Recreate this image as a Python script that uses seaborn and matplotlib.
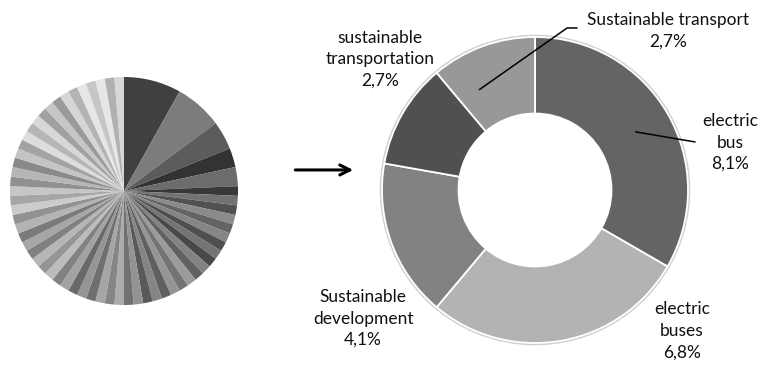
import matplotlib

matplotlib.use("Agg")

import matplotlib.pyplot as plt
import numpy as np
import seaborn as sns

# all keywords: counts of occurrences (first five are the top terms)
all_counts = [6, 5, 3, 2, 2] + [1] * 56

# top terms shown in the donut
top_terms = [
    "electric\nbus",
    "electric\nbuses",
    "Sustainable\ndevelopment",
    "sustainable\ntransportation",
    "Sustainable transport",
]
top_counts = [6, 5, 3, 2, 2]
top_pct = ["8,1%", "6,8%", "4,1%", "2,7%", "2,7%"]
top_colors = ["#646464", "#b3b3b3", "#828282", "#505050", "#989898"]

sns.set_theme(style="white")
plt.rcParams["font.family"] = ["Lato", "DejaVu Sans"]

W, H = 781, 377
fig = plt.figure(figsize=(W / 100, H / 100), dpi=100)

# ---- left pie with every keyword ----
pc, pr = (124, 191), 114
axl = fig.add_axes([(pc[0] - pr) / W, (H - pc[1] - pr) / H, 2 * pr / W, 2 * pr / H])
n = len(all_counts)
lead = ["#404040", "#7c7c7c", "#5c5c5c", "#333333", "#6c6c6c"]
cycle = [0.0, 0.22, 0.08, 0.3, 0.14, 0.26, 0.04, 0.18]
rest = []
for i in range(n - len(lead)):
    t = i / (n - len(lead))
    v = min(0.9, 0.22 + 0.45 * t + cycle[i % len(cycle)])
    rest.append((v, v, v))
axl.pie(all_counts, colors=lead + rest, startangle=90, counterclock=False,
        wedgeprops=dict(linewidth=0))
axl.set_xlim(-1, 1)
axl.set_ylim(-1, 1)
axl.set_aspect("auto")
axl.axis("off")

# ---- right donut with top terms ----
dc, dr = (535, 190), 153
x0, x1 = 280, W
axr = fig.add_axes([x0 / W, 0, (x1 - x0) / W, 1])

axr.add_patch(plt.Circle((0, 0), 1.008, fill=False, edgecolor="#cfcfcf", linewidth=1.5))
wedges, _ = axr.pie(top_counts, colors=top_colors, startangle=90, counterclock=False,
                    radius=1.0, center=(0, 0), frame=True,
                    wedgeprops=dict(width=0.5, edgecolor="white", linewidth=1.3))
axr.set_xlim((x0 - dc[0]) / dr, (x1 - dc[0]) / dr)
axr.set_ylim(-(H - dc[1]) / dr, dc[1] / dr)
axr.set_aspect("auto")
axr.axis("off")

label_pos = [(1.275, 0.31), (0.96, -0.92), (-1.124, -0.84), (-1.013, 0.855), (0.869, 1.04)]
for name, pct, (lx, ly) in zip(top_terms, top_pct, label_pos):
    axr.text(lx, ly, f"{name}\n{pct}", ha="center", va="center", fontsize=12.5,
             color="#111111", linespacing=1.42)

# leader lines
def mid_point(w, r=0.75, shift=0.0):
    a = np.deg2rad((w.theta1 + w.theta2) / 2 + shift)
    return r * np.cos(a), r * np.sin(a)

sx, sy = mid_point(wedges[4], 0.75, 9)
axr.plot([sx, 0.21, 0.275], [sy, 1.059, 1.059], color="black", linewidth=1.1)
bx, by = mid_point(wedges[0], 0.76)
axr.plot([bx, 1.046], [by, 0.314], color="black", linewidth=1.1)

# arrow between the two charts
axr.annotate("", xy=(-1.17, 0.131), xytext=(-1.585, 0.131),
             arrowprops=dict(arrowstyle="->", color="black", linewidth=2.2,
                             mutation_scale=18))

fig.savefig("out.png", dpi=100, facecolor="white")
